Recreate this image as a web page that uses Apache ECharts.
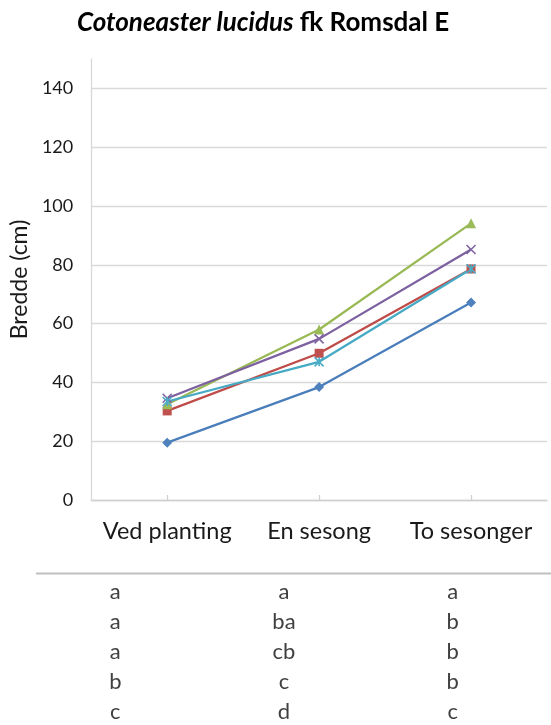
<!DOCTYPE html>
<html>
<head>
<meta charset="utf-8">
<script src="https://cdn.jsdelivr.net/npm/echarts@6/dist/echarts.min.js"></script>
<style>
  html, body { margin: 0; padding: 0; background: #ffffff; }
  #chart { width: 551px; height: 725px; }
</style>
</head>
<body>
<div id="chart"></div>
<script>
// Width of Cotoneaster lucidus 'Romsdal E' at three registrations
const categories = ['Ved planting', 'En sesong', 'To sesonger'];

// Mean width (cm) per treatment
const seriesA = [19.5, 38.4, 67.2];
const seriesB = [30.3, 49.9, 78.6];
const seriesC = [32.6, 58.0, 94.1];
const seriesD = [34.6, 54.8, 85.2];
const seriesE = [33.5, 47.0, 78.6];

// Significance letters under each registration (one row per treatment)
const lettersVed = ['a', 'a', 'a', 'b', 'c'];
const lettersEn = ['a', 'ba', 'cb', 'c', 'd'];
const lettersTo = ['a', 'b', 'b', 'b', 'c'];

// Value axis
const yMin = 0;
const yMax = 150;
const yStep = 20;

const FONT = 'Lato';
const TEXT = '#404040';

const crossPath = 'path://M0,0L10,10M10,0L0,10';
const starPath = 'path://M0,0L10,10M10,0L0,10M5,0L5,10';

function lineSeries(name, data, lineColor, fillColor, symbol, size, stroked) {
  return {
    name: name,
    type: 'line',
    data: data,
    xAxisIndex: 0,
    yAxisIndex: 0,
    symbol: symbol,
    symbolSize: size,
    showAllSymbol: true,
    lineStyle: { color: lineColor, width: 2.25 },
    itemStyle: stroked
      ? { color: 'transparent', borderColor: fillColor, borderWidth: 1.6 }
      : { color: fillColor, borderColor: fillColor, borderWidth: 0 },
    emphasis: { disabled: true },
    animation: false,
    z: 3
  };
}

const chart = echarts.init(document.getElementById('chart'), null, { renderer: 'canvas' });

// split-line colours: hide the line at the axis maximum (150)
const splitCount = Math.floor((yMax - yMin) / yStep) + 2;
const splitColors = [];
for (let i = 0; i < splitCount; i++) {
  splitColors.push(i === splitCount - 1 ? 'rgba(0,0,0,0)' : '#d9d9d9');
}

const letterLabels = categories.map((c, i) => [lettersVed, lettersEn, lettersTo][i].join('\n'));

chart.setOption({
  backgroundColor: '#ffffff',
  animation: false,
  title: {
    text: '{i|Cotoneaster lucidus} {b|fk Romsdal E}',
    left: 72,
    top: 5,
    textStyle: {
      fontFamily: FONT,
      fontSize: 26,
      fontWeight: 'bold',
      color: '#000000',
      rich: {
        i: { fontFamily: FONT, fontSize: 26, fontWeight: 'bold', fontStyle: 'italic', color: '#000000' },
        b: { fontFamily: FONT, fontSize: 26, fontWeight: 'bold', color: '#000000' }
      }
    }
  },
  grid: [
    { left: 89, right: 4, top: 59, bottom: 225, containLabel: false },
    { left: 31, right: 14, top: 573, height: 1, containLabel: false }
  ],
  xAxis: [
    {
      type: 'category',
      gridIndex: 0,
      data: categories,
      boundaryGap: true,
      axisLine: { show: true, lineStyle: { color: '#d0d0d0', width: 1.3 } },
      axisTick: { show: true, alignWithLabel: true, inside: true, length: 5, lineStyle: { color: '#d0d0d0', width: 1.3 } },
      axisLabel: { fontFamily: FONT, fontSize: 23.5, color: '#1a1a1a', margin: 19, interval: 0 },
      splitLine: { show: false }
    },
    {
      type: 'category',
      gridIndex: 1,
      data: letterLabels,
      boundaryGap: true,
      axisLine: { show: false },
      axisTick: { show: false },
      axisLabel: { fontFamily: FONT, fontSize: 22, color: TEXT, margin: 4, lineHeight: 30, interval: 0 },
      splitLine: { show: false }
    }
  ],
  yAxis: [
    {
      type: 'value',
      gridIndex: 0,
      min: yMin,
      max: yMax,
      interval: yStep,
      name: 'Bredde (cm)',
      nameLocation: 'middle',
      nameGap: 53,
      nameTextStyle: { fontFamily: FONT, fontSize: 23, color: '#1a1a1a' },
      axisLine: { show: true, lineStyle: { color: '#d9d9d9', width: 1.3 } },
      axisTick: { show: false },
      axisLabel: {
        fontFamily: FONT, fontSize: 18, color: '#1a1a1a', margin: 18,
        showMaxLabel: false
      },
      splitLine: { show: true, lineStyle: { color: splitColors, width: 1.3 } }
    },
    {
      type: 'value',
      gridIndex: 1,
      show: false
    }
  ],
  graphic: [
    {
      type: 'line',
      shape: { x1: 36, y1: 573.5, x2: 551, y2: 573.5 },
      style: { stroke: '#bfbfbf', lineWidth: 2 },
      silent: true
    }
  ],
  series: [
    lineSeries('A', seriesA, '#4a7ebb', '#4f81bd', 'diamond', 10, false),
    lineSeries('B', seriesB, '#be4b48', '#c0504d', 'rect', 9, false),
    lineSeries('C', seriesC, '#98b954', '#9bbb59', 'triangle', 10, false),
    lineSeries('D', seriesD, '#7d60a0', '#8064a2', crossPath, 9, true),
    lineSeries('E', seriesE, '#46aac5', '#4bacc6', starPath, 9, true)
  ]
});
</script>
</body>
</html>
